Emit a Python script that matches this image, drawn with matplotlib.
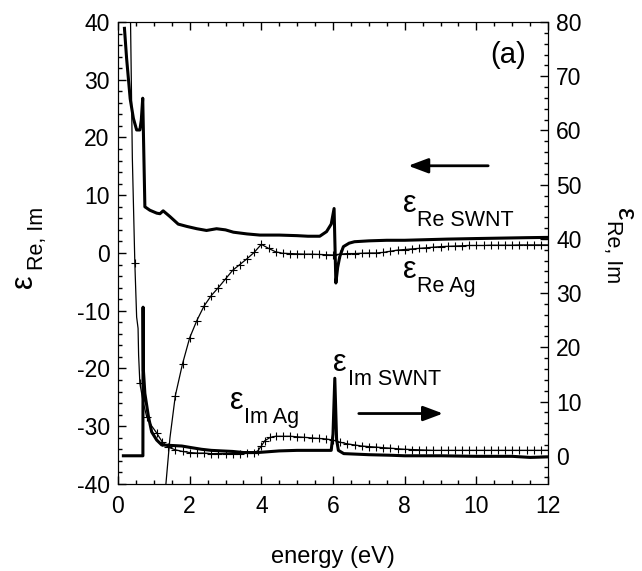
import matplotlib
matplotlib.use("Agg")
import matplotlib.pyplot as plt
from matplotlib.ticker import MultipleLocator

plt.rcParams['font.family'] = ['Liberation Sans', 'DejaVu Sans']
plt.rcParams['axes.unicode_minus'] = False

# --- data ---
# real part of SWNT permittivity (left axis)
swnt_re_e = [0.18, 0.24, 0.30, 0.34, 0.43, 0.52, 0.61, 0.65, 0.69, 0.75, 0.89, 1.08,
             1.17, 1.26, 1.45, 1.68, 1.92, 2.2, 2.47, 2.75, 3.0, 3.22, 3.6, 3.96, 4.5,
             5.0, 5.3, 5.63, 5.82, 5.95, 6.03, 6.08, 6.13, 6.19, 6.29, 6.45, 6.6, 7.0,
             7.5, 8.0, 9.17, 10.0, 11.4, 12.0]
swnt_re = [38.9, 33.7, 29.5, 26.7, 23.3, 21.3, 21.3, 23.0, 26.8, 8.0, 7.4, 6.9,
           6.8, 7.3, 6.3, 5.0, 4.6, 4.2, 3.9, 4.2, 4.0, 3.6, 3.3, 3.1, 3.1,
           3.0, 2.9, 2.9, 3.7, 5.0, 7.7, -5.2, -2.5, -0.6, 1.1, 1.7, 1.95, 2.1,
           2.2, 2.2, 2.4, 2.5, 2.65, 2.7]

# imaginary part of SWNT permittivity (right axis)
swnt_im_e = [0.15, 0.695, 0.70, 0.71, 0.75, 0.85, 0.94, 1.08, 1.22, 1.5, 1.78, 2.05,
             2.33, 2.6, 2.89, 3.2, 3.5, 3.9, 4.5, 5.0, 5.5, 5.95, 6.0, 6.05, 6.1,
             6.15, 6.3, 7.0, 7.6, 8.0, 9.0, 10.0, 11.0, 11.5, 12.0]
swnt_im = [0.0, 0.0, 27.4, 15.7, 11.5, 7.2, 4.4, 2.9, 2.0, 1.9, 1.8, 1.5,
           1.2, 1.0, 0.9, 0.8, 0.6, 0.6, 0.9, 1.0, 1.0, 1.0, 4.0, 14.3, 3.0,
           1.0, 0.4, 0.2, 0.1, 0.0, 0.0, -0.1, -0.1, -0.3, -0.2]

# real part of Ag permittivity (left axis)
ag_re_e = [1.33, 1.45, 1.6, 1.8, 2.0, 2.2, 2.4, 2.6, 2.8, 3.0, 3.2, 3.4, 3.6, 3.8,
           4.0, 4.2, 4.4, 4.6, 4.8, 5.0, 5.2, 5.4, 5.6, 5.8, 6.0, 6.2, 6.4, 6.6,
           6.8, 7.0, 7.2, 7.4, 7.6, 7.8, 8.0, 8.2, 8.4, 8.6, 8.8, 9.0, 9.2, 9.4,
           9.6, 9.8, 10.0, 10.2, 10.4, 10.6, 10.8, 11.0, 11.2, 11.4, 11.6, 11.8, 12.0]
ag_re = [-40.5, -32.0, -24.7, -19.2, -14.7, -11.7, -9.2, -7.4, -6.0, -4.5, -3.0, -2.0, -1.0, 0.1,
         1.5, 0.8, 0.2, -0.05, -0.1, -0.15, -0.2, -0.2, -0.25, -0.3, -0.35, -0.2, -0.1, -0.1,
         -0.05, 0.0, 0.0, 0.1, 0.3, 0.5, 0.6, 0.7, 0.8, 0.9, 1.0, 1.1, 1.15, 1.2,
         1.25, 1.3, 1.3, 1.3, 1.35, 1.35, 1.35, 1.35, 1.4, 1.4, 1.4, 1.4, 1.4]

# imaginary part of Ag permittivity (right axis)
ag_im_e = [0.33, 0.40, 0.47, 0.52, 0.56, 0.575, 0.61, 0.70, 0.80, 0.94, 1.08, 1.23,
           1.4, 1.6, 1.8, 2.0, 2.2, 2.4, 2.6, 2.8, 3.0, 3.2, 3.4, 3.6, 3.8, 3.9,
           4.0, 4.1, 4.25, 4.4, 4.6, 4.8, 5.0, 5.2, 5.4, 5.6, 5.8, 6.0, 6.2, 6.4,
           6.6, 6.8, 7.0, 7.2, 7.4, 7.6, 7.8, 8.0, 8.2, 8.4, 8.6, 8.8, 9.0, 9.2,
           9.4, 9.6, 9.8, 10.0, 10.2, 10.4, 10.6, 10.8, 11.0, 11.2, 11.4, 11.6, 11.8, 12.0]
ag_im = [90.0, 55.0, 35.5, 25.6, 23.5, 18.6, 13.4, 10.0, 7.2, 5.5, 4.2, 2.6,
         1.6, 1.1, 0.8, 0.6, 0.5, 0.5, 0.4, 0.4, 0.4, 0.4, 0.4, 0.5, 0.6, 0.9,
         1.8, 2.8, 3.4, 3.6, 3.6, 3.6, 3.5, 3.4, 3.3, 3.2, 3.1, 2.9, 2.5, 2.2,
         2.0, 1.8, 1.7, 1.6, 1.5, 1.4, 1.3, 1.2, 1.15, 1.1, 1.05, 1.0, 1.0, 1.0,
         1.0, 1.0, 1.0, 1.0, 1.0, 1.0, 1.0, 1.0, 1.0, 1.0, 1.0, 1.0, 1.0, 1.0]
ag_im_unmarked = [0.33, 0.40, 0.52, 0.56, 0.575, 0.70, 0.94]

# curve labels: (x, y on left axis, subscript)
curve_labels = [(7.95, 7.1, 'Re SWNT'), (7.95, -4.3, 'Re Ag'),
                (6.0, -20.4, 'Im SWNT'), (3.12, -27.0, 'Im Ag')]

EPS = 'ε'

fig = plt.figure(figsize=(6.42, 5.71), dpi=100)
ax = fig.add_axes([0.1838, 0.1524, 0.6698, 0.8091])
ax2 = ax.twinx()

ax.plot(swnt_re_e, swnt_re, color='k', lw=2.2)
ax.plot(ag_re_e, ag_re, color='k', lw=0.9, marker='+', ms=6, mew=0.8,
        markevery=list(range(2, len(ag_re_e))))
ax2.plot(swnt_im_e, swnt_im, color='k', lw=2.2)
im_marks = [i for i, e in enumerate(ag_im_e) if e not in ag_im_unmarked]
ax2.plot(ag_im_e, ag_im, color='k', lw=0.9, marker='+', ms=6, mew=0.8,
         markevery=im_marks)

ax.set_xlim(0, 12)
ax.set_ylim(-40, 40)
ax2.set_ylim(-5.2, 80)

ax.xaxis.set_major_locator(MultipleLocator(2))
ax.xaxis.set_minor_locator(MultipleLocator(0.5))
ax.yaxis.set_major_locator(MultipleLocator(10))
ax.yaxis.set_minor_locator(MultipleLocator(2))
ax2.yaxis.set_major_locator(MultipleLocator(10))
ax2.yaxis.set_minor_locator(MultipleLocator(2))

ax.tick_params(axis='x', which='both', direction='in', top=True, labelsize=16.5, pad=8)
ax.tick_params(axis='y', which='both', direction='in', right=False, labelsize=16.5, pad=6)
ax2.tick_params(axis='y', which='both', direction='in', labelsize=16.5, pad=6)
for a in (ax, ax2):
    a.tick_params(which='major', length=6, width=1)
    a.tick_params(which='minor', length=3, width=1)

ax.set_xlabel('energy (eV)', fontsize=17)
ax.xaxis.set_label_coords(0.5, -0.135)

# axis titles: epsilon with a large subscript, drawn as two rotated pieces
fig.text(24 / 642, 1 - 281 / 571, EPS, fontsize=22, rotation=90, ha='center', va='center')
fig.text(37 / 642, 1 - 238 / 571, 'Re, Im', fontsize=15.5, rotation=90, ha='center', va='center')
fig.text(624 / 642, 1 - 214 / 571, EPS, fontsize=20, rotation=270, ha='center', va='center')
fig.text(613 / 642, 1 - 252 / 571, 'Re, Im', fontsize=15.5, rotation=270, ha='center', va='center')

for x, y, sub in curve_labels:
    ax.text(x, y, EPS, fontsize=22, ha='left', va='baseline')
    ax.annotate(sub, xy=(x, y), xytext=(10.5, -10), textcoords='offset points',
                fontsize=15.5, ha='left', va='baseline')

ax.text(10.9, 34.3, '(a)', fontsize=21, ha='center', va='center')

arrow = dict(arrowstyle='-|>,head_length=0.8,head_width=0.3', lw=2, color='k',
             mutation_scale=15, shrinkA=0, shrinkB=0)
ax.annotate('', xy=(8.1, 15.1), xytext=(10.33, 15.1), arrowprops=arrow)
ax.annotate('', xy=(9.07, -27.8), xytext=(6.72, -27.8), arrowprops=arrow)

fig.savefig('out.png', dpi=100)
